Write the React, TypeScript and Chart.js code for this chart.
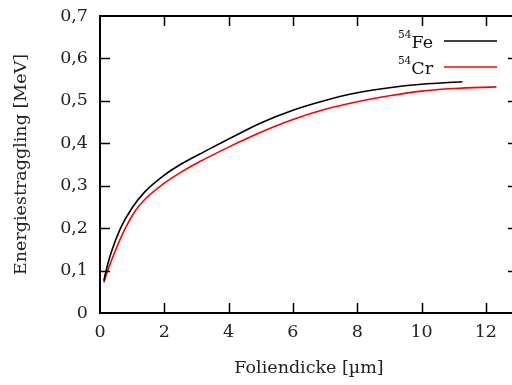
import React, { useEffect, useRef } from "react";
import { Chart, registerables } from "chart.js";

Chart.register(...registerables);

const feX = [0.12, 0.19, 0.35, 0.64, 1.0, 1.4, 2.0, 2.5, 3.26, 4.0, 5.0, 6.0, 7.0, 8.0, 9.0, 10.0, 11.27];
const feY = [0.076, 0.1, 0.143, 0.2, 0.248, 0.286, 0.325, 0.35, 0.381, 0.41, 0.448, 0.478, 0.501, 0.519, 0.531, 0.539, 0.545];

const crX = [0.12, 0.24, 0.45, 0.78, 1.1, 1.4, 2.0, 2.5, 3.11, 4.0, 5.0, 6.0, 7.0, 8.0, 9.0, 10.0, 11.0, 12.33];
const crY = [0.072, 0.1, 0.142, 0.199, 0.241, 0.268, 0.306, 0.331, 0.357, 0.391, 0.426, 0.456, 0.48, 0.498, 0.512, 0.523, 0.529, 0.533];

const xTicks = [0, 2, 4, 6, 8, 10, 12];
const yTicks = [0, 0.1, 0.2, 0.3, 0.4, 0.5, 0.6, 0.7];

const seriesNames = ["Fe", "Cr"];
const seriesSup = ["54", "54"];
const seriesColors = ["#000000", "#ff0000"];

const FONT = "'DejaVu Serif', serif";
const FS = 17.5;

const framePlugin = {
  id: "frame",
  afterDatasetsDraw(chart: any) {
    const { ctx, chartArea, scales } = chart;
    const { left, right, top, bottom } = chartArea;
    const x = scales.x;
    const y = scales.y;
    ctx.save();
    ctx.strokeStyle = "#000";
    ctx.lineWidth = 1.5;
    ctx.beginPath();
    xTicks.forEach((v) => {
      if (v <= x.min || v >= x.max) return;
      const px = Math.round(x.getPixelForValue(v)) + 0.5;
      ctx.moveTo(px, bottom);
      ctx.lineTo(px, bottom - 10);
      ctx.moveTo(px, top);
      ctx.lineTo(px, top + 10);
    });
    yTicks.forEach((v) => {
      if (v <= y.min || v >= y.max) return;
      const py = Math.round(y.getPixelForValue(v)) + 0.5;
      ctx.moveTo(left, py);
      ctx.lineTo(left + 10, py);
      ctx.moveTo(right, py);
      ctx.lineTo(right - 10, py);
    });
    ctx.stroke();
    ctx.lineWidth = 2;
    ctx.strokeRect(left, top, right - left, bottom - top);

    // legend
    const textRight = 433;
    const lineX0 = 444;
    const lineX1 = 497;
    const rows = [
      { lineY: 41, base: 47.5 },
      { lineY: 67, base: 73.5 },
    ];
    rows.forEach((r, i) => {
      ctx.fillStyle = "#111";
      ctx.textBaseline = "alphabetic";
      ctx.textAlign = "right";
      ctx.font = `${FS}px ${FONT}`;
      ctx.fillText(seriesNames[i], textRight, r.base);
      const w = ctx.measureText(seriesNames[i]).width;
      ctx.font = `10.5px ${FONT}`;
      ctx.fillText(seriesSup[i], textRight - w, r.base - 10);
      ctx.strokeStyle = seriesColors[i];
      ctx.lineWidth = 1.5;
      ctx.beginPath();
      ctx.moveTo(lineX0, r.lineY);
      ctx.lineTo(lineX1, r.lineY);
      ctx.stroke();
    });
    ctx.restore();
  },
};

export default function App() {
  const ref = useRef<HTMLCanvasElement | null>(null);
  useEffect(() => {
    document.body.style.margin = "0";
    document.body.style.overflow = "hidden";
    const canvas = ref.current!;
    const chart = new Chart(canvas, {
      type: "line",
      data: {
        datasets: [
          {
            label: "54Fe",
            data: feX.map((x, i) => ({ x, y: feY[i] })),
            borderColor: seriesColors[0],
            borderWidth: 1.6,
            pointRadius: 0,
            cubicInterpolationMode: "monotone",
            fill: false,
          },
          {
            label: "54Cr",
            data: crX.map((x, i) => ({ x, y: crY[i] })),
            borderColor: seriesColors[1],
            borderWidth: 1.6,
            pointRadius: 0,
            cubicInterpolationMode: "monotone",
            fill: false,
          },
        ],
      },
      options: {
        responsive: false,
        animation: false,
        devicePixelRatio: 1,
        layout: { padding: { left: 0, top: 16, right: 12, bottom: 0 } },
        plugins: { legend: { display: false }, tooltip: { enabled: false } },
        scales: {
          x: {
            type: "linear",
            min: 0,
            max: 13,
            grid: { display: false, drawTicks: false },
            border: { display: false },
            afterBuildTicks: (s: any) => {
              s.ticks = xTicks.map((v) => ({ value: v }));
            },
            afterFit: (s: any) => {
              s.height = 72;
              s.paddingLeft = 0;
              s.paddingRight = 0;
            },
            ticks: {
              padding: 9,
              color: "#222",
              font: { family: FONT, size: FS },
              maxRotation: 0,
              callback: (v: any) => String(v),
            },
            title: {
              display: true,
              text: "Foliendicke [µm]",
              color: "#222",
              font: { family: FONT, size: FS },
              padding: { top: 0, bottom: 6 },
            },
          },
          y: {
            type: "linear",
            min: 0,
            max: 0.7,
            grid: { display: false, drawTicks: false },
            border: { display: false },
            afterBuildTicks: (s: any) => {
              s.ticks = yTicks.map((v) => ({ value: v }));
            },
            afterFit: (s: any) => {
              s.width = 100;
              s.paddingTop = 0;
              s.paddingBottom = 0;
            },
            ticks: {
              padding: 12,
              color: "#222",
              font: { family: FONT, size: FS },
              callback: (v: any) => (v === 0 ? "0" : Number(v).toFixed(1).replace(".", ",")),
            },
            title: {
              display: true,
              text: "Energiestraggling [MeV]",
              color: "#222",
              font: { family: FONT, size: FS },
              padding: { top: 11, bottom: 0 },
            },
          },
        },
      },
      plugins: [framePlugin],
    } as any);
    return () => chart.destroy();
  }, []);
  return (
    <div style={{ position: "fixed", left: 0, top: 0, width: 512, height: 385, overflow: "hidden", background: "#fff" }}>
      <canvas ref={ref} width={530} height={385} style={{ display: "block", width: 530, height: 385 }} />
    </div>
  );
}
